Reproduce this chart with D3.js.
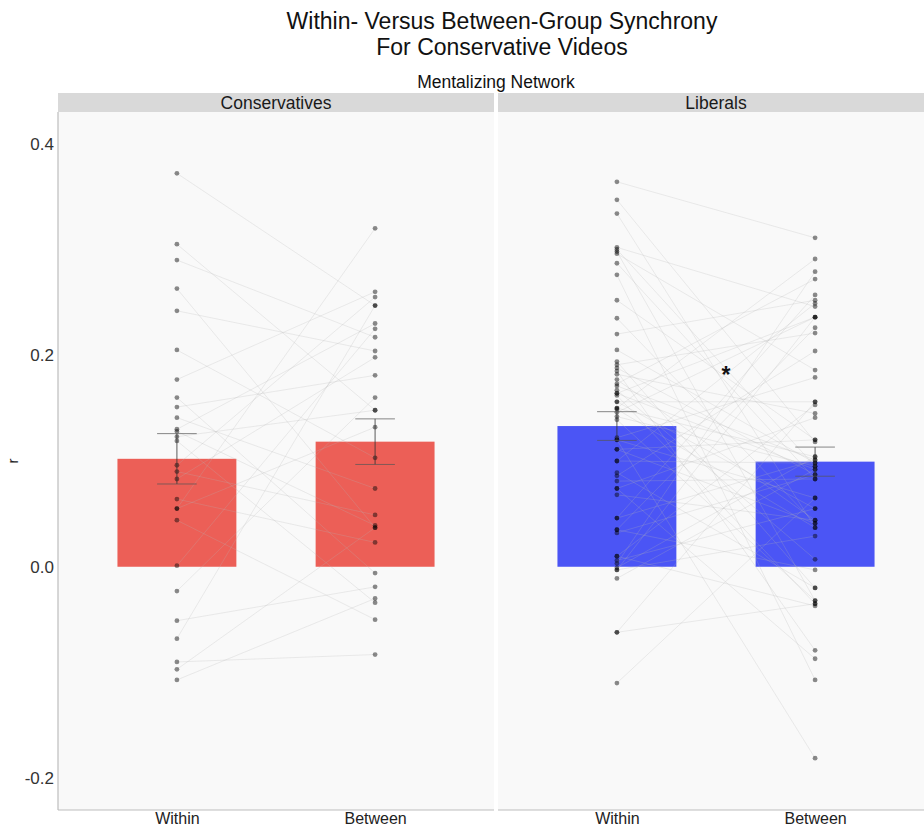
<!DOCTYPE html>
<html>
<head>
<meta charset="utf-8">
<script src="https://cdn.jsdelivr.net/npm/d3@7/dist/d3.min.js"></script>
<style>
  html, body { margin: 0; padding: 0; background: #ffffff; }
  svg { display: block; font-family: "Liberation Sans", Arial, Helvetica, sans-serif; }
</style>
</head>
<body>
<svg id="chart" width="924" height="828"></svg>
<script>
// Synchrony (r) per subject; arrays are in subject order, so index i of
// "within" and index i of "between" belong to the same person.
const conditions = ["Within", "Between"];
const groups = ["Conservatives", "Liberals"];

const consWithin = [0.372, 0.305, 0.290, 0.263, 0.242, 0.205, 0.177, 0.160, 0.151, 0.141,
  0.130, 0.128, 0.123, 0.119, 0.096, 0.090, 0.083, 0.064, 0.055, 0.055,
  0.044, 0.001, -0.023, -0.051, -0.068, -0.090, -0.097, -0.107];
const consBetween = [0.247, 0.148, 0.217, 0.037, 0.204, 0.103, 0.260, -0.006, 0.181, 0.074,
  0.230, 0.039, 0.148, -0.034, 0.255, 0.049, 0.198, 0.023, 0.320, 0.132,
  -0.050, 0.225, 0.160, -0.019, 0.247, -0.083, 0.037, -0.030];

const libWithin = [0.364, 0.347, 0.334, 0.302, 0.300, 0.298, 0.296, 0.287, 0.276, 0.252,
  0.235, 0.220, 0.205, 0.194, 0.191, 0.188, 0.185, 0.182, 0.177, 0.173,
  0.171, 0.167, 0.164, 0.164, 0.162, 0.156, 0.156, 0.150, 0.150, 0.149,
  0.146, 0.142, 0.139, 0.122, 0.120, 0.120, 0.111, 0.111, 0.100, 0.100,
  0.089, 0.086, 0.081, 0.074, 0.074, 0.068, 0.046, 0.046, 0.035, 0.035,
  0.032, 0.010, 0.010, 0.006, 0.003, -0.001, -0.003, -0.003, -0.011, -0.062,
  -0.062, -0.110];
const libBetween = [0.311, 0.118, 0.037, 0.246, 0.095, -0.032, 0.186, 0.083, -0.107, 0.120,
  0.041, 0.252, 0.098, -0.020, 0.221, 0.087, -0.079, 0.145, 0.044, 0.272,
  0.101, 0.007, 0.236, 0.092, -0.035, 0.156, 0.055, 0.291, 0.104, 0.037,
  0.236, 0.095, -0.032, 0.179, 0.065, -0.181, 0.120, 0.041, 0.249, 0.098,
  -0.020, 0.204, 0.083, -0.087, 0.141, 0.044, 0.257, 0.101, -0.003, 0.226,
  0.087, -0.037, 0.153, 0.055, 0.279, 0.104, 0.029, 0.236, 0.092, -0.035,
  0.156, 0.065];

const yTicks = [-0.2, 0.0, 0.2, 0.4];
const titleLines = ["Within- Versus Between-Group Synchrony", "For Conservative Videos"];
const subtitle = "Mentalizing Network";
const yLabel = "r";
const sigMark = "*";

const barColors = { Conservatives: "#ec5f57", Liberals: "#4b55f5" };

const panelData = [
  { group: "Conservatives", within: consWithin, between: consBetween },
  { group: "Liberals", within: libWithin, between: libBetween }
];

// ---- layout ----
const svg = d3.select("#chart");
const plotTop = 112, plotBottom = 810;
const stripH = 19;
const panelW = 436, panelGap = 4, firstPanelX = 58;

const y = d3.scaleLinear().domain([-0.23, 0.43]).range([plotBottom, plotTop]);

function stats(arr) {
  const m = d3.mean(arr);
  const se = d3.deviation(arr) / Math.sqrt(arr.length);
  return { mean: m, lo: m - se, hi: m + se };
}

// tick labels use a plain hyphen for negatives
const tickFmt = d => d.toFixed(1);

// titles
svg.append("g").selectAll("text").data(titleLines).join("text")
  .attr("x", 502).attr("y", (d, i) => 29 + i * 26)
  .attr("text-anchor", "middle").attr("font-size", 23).attr("fill", "#111")
  .text(d => d);
svg.append("text").attr("x", 496).attr("y", 88).attr("text-anchor", "middle")
  .attr("font-size", 17.5).attr("fill", "#111").text(subtitle);

// y axis label
svg.append("text").attr("transform", `translate(18,${y(0.1)}) rotate(-90)`)
  .attr("text-anchor", "middle").attr("font-size", 15).attr("fill", "#222").text(yLabel);

// y axis tick labels
const yAxis = d3.axisLeft(y).tickValues(yTicks).tickFormat(tickFmt).tickSize(0).tickPadding(4);
const yAxisG = svg.append("g").attr("transform", `translate(${firstPanelX},0)`).call(yAxis);
yAxisG.select(".domain").remove();
yAxisG.selectAll("text").attr("font-size", 17).attr("fill", "#333")
  .attr("font-family", "Liberation Sans, Arial, sans-serif");

panelData.forEach((p, pi) => {
  const x0 = firstPanelX + pi * (panelW + panelGap);
  const x = d3.scaleLinear().domain([0.4, 2.6]).range([x0, x0 + panelW]);
  const xPos = c => x(conditions.indexOf(c) + 1);
  const g = svg.append("g");

  // panel background
  g.append("rect").attr("x", x0).attr("y", plotTop).attr("width", panelW)
    .attr("height", plotBottom - plotTop).attr("fill", "#f9f9f9");
  // strip
  g.append("rect").attr("x", x0).attr("y", plotTop - stripH).attr("width", panelW)
    .attr("height", stripH).attr("fill", "#d9d9d9");
  g.append("text").attr("x", x0 + panelW / 2).attr("y", plotTop - 3.5)
    .attr("text-anchor", "middle").attr("font-size", 17.5).attr("fill", "#1a1a1a").text(p.group);

  const summary = conditions.map(c => {
    const s = stats(c === "Within" ? p.within : p.between);
    return Object.assign({ cond: c }, s);
  });

  // bars
  g.selectAll("rect.bar").data(summary).join("rect").attr("class", "bar")
    .attr("x", d => x(conditions.indexOf(d.cond) + 1 - 0.3))
    .attr("width", x(0.6) - x(0))
    .attr("y", d => y(Math.max(0, d.mean)))
    .attr("height", d => Math.abs(y(d.mean) - y(0)))
    .attr("fill", barColors[p.group]);

  // subject lines
  const pairs = p.within.map((w, i) => ({ w, b: p.between[i] }));
  g.selectAll("line.subj").data(pairs).join("line").attr("class", "subj")
    .attr("x1", xPos("Within")).attr("x2", xPos("Between"))
    .attr("y1", d => y(d.w)).attr("y2", d => y(d.b))
    .attr("stroke", "#b5b5b5").attr("stroke-opacity", 0.35).attr("stroke-width", 0.7);

  // points
  conditions.forEach(c => {
    const vals = c === "Within" ? p.within : p.between;
    g.selectAll(null).data(vals).join("circle")
      .attr("cx", xPos(c)).attr("cy", d => y(d)).attr("r", 2.4)
      .attr("fill", "#000").attr("fill-opacity", 0.45);
  });

  // error bars
  const eb = g.selectAll("g.eb").data(summary).join("g").attr("class", "eb");
  eb.append("line")
    .attr("x1", d => xPos(d.cond)).attr("x2", d => xPos(d.cond))
    .attr("y1", d => y(d.lo)).attr("y2", d => y(d.hi))
    .attr("stroke", "#333").attr("stroke-opacity", 0.8).attr("stroke-width", 1);
  ["lo", "hi"].forEach(k => {
    eb.append("line")
      .attr("x1", d => x(conditions.indexOf(d.cond) + 1 - 0.1))
      .attr("x2", d => x(conditions.indexOf(d.cond) + 1 + 0.1))
      .attr("y1", d => y(d[k])).attr("y2", d => y(d[k]))
      .attr("stroke", "#555").attr("stroke-opacity", 0.7).attr("stroke-width", 1);
  });

  // x axis labels
  const xAxis = d3.axisBottom(x).tickValues([1, 2]).tickFormat(d => conditions[d - 1]).tickSize(0).tickPadding(3);
  const xg = g.append("g").attr("transform", `translate(0,${plotBottom})`).call(xAxis);
  xg.select(".domain").remove();
  xg.selectAll("text").attr("font-size", 16).attr("fill", "#222")
    .attr("font-family", "Liberation Sans, Arial, sans-serif");

  // panel border: left and bottom
  g.append("line").attr("x1", x0).attr("x2", x0 + panelW).attr("y1", plotBottom).attr("y2", plotBottom)
    .attr("stroke", "#bdbdbd").attr("stroke-width", 1.2);
  if (pi === 0) {
    g.append("line").attr("x1", x0).attr("x2", x0).attr("y1", plotTop).attr("y2", plotBottom)
      .attr("stroke", "#bdbdbd").attr("stroke-width", 1.2);
  }

  if (p.group === "Liberals") {
    g.append("text").attr("x", x(1.55)).attr("y", y(0.174))
      .attr("text-anchor", "middle").attr("font-size", 23).attr("font-weight", "bold")
      .attr("fill", "#111").text(sigMark);
  }
});
</script>
</body>
</html>
